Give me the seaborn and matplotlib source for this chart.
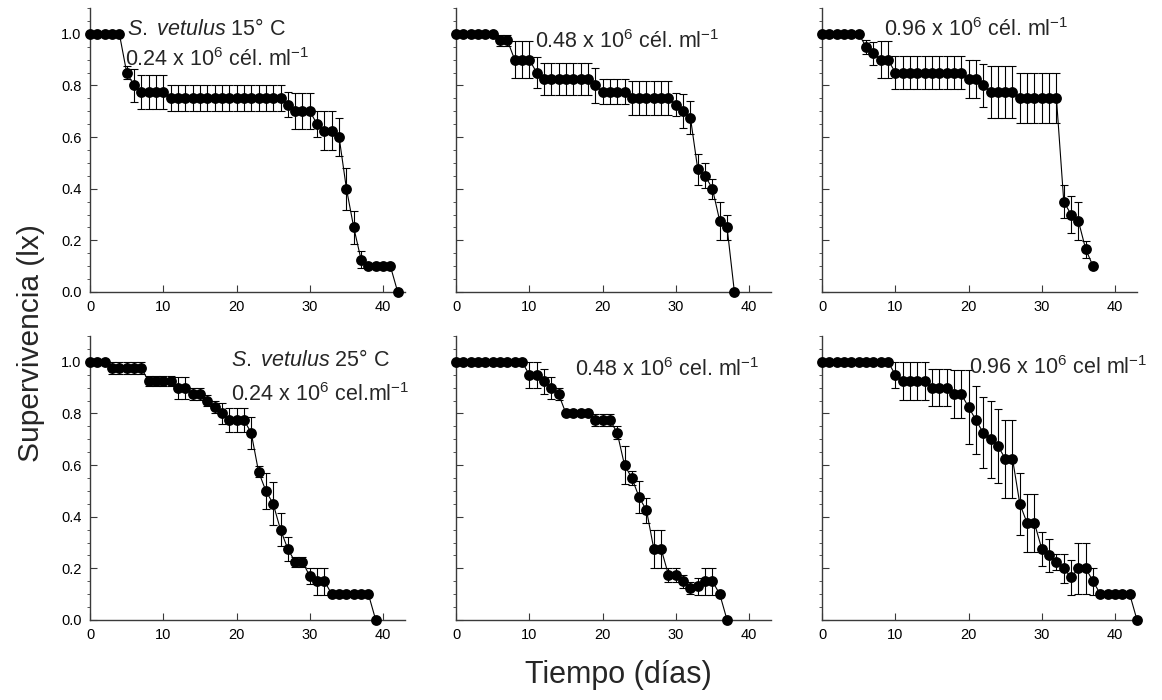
import matplotlib
matplotlib.use("Agg")
import matplotlib.pyplot as plt
import seaborn as sns
import numpy as np
from matplotlib.ticker import MultipleLocator

# --- data (dias, supervivencia lx, error) ---
# S. vetulus 15 C
d_15_024 = list(range(0, 43))
lx_15_024 = [1.0]*5 + [0.85, 0.80] + [0.775]*4 + [0.75]*16 + [0.725] + [0.70]*3 + \
    [0.65, 0.625, 0.625, 0.60, 0.40, 0.25, 0.125] + [0.10]*4 + [0.0]
se_15_024 = [0]*5 + [0.025, 0.065] + [0.065]*4 + [0.05]*16 + [0.048] + [0.07]*3 + \
    [0.05, 0.075, 0.075, 0.072, 0.082, 0.065, 0.032] + [0]*4 + [0]

d_15_048 = list(range(0, 39))
lx_15_048 = [1.0]*6 + [0.975]*2 + [0.90]*3 + [0.85] + [0.825]*7 + [0.80] + [0.775]*4 + \
    [0.75]*6 + [0.725, 0.70, 0.675, 0.475, 0.45, 0.40, 0.275, 0.25, 0.0]
se_15_048 = [0]*6 + [0.022]*2 + [0.072]*3 + [0.061] + [0.063]*7 + [0.069] + [0.048]*4 + \
    [0.066]*6 + [0.045, 0.066, 0.063, 0.061, 0.049, 0.039, 0.074, 0.048, 0]

d_15_096 = list(range(0, 38))
lx_15_096 = [1.0]*6 + [0.95, 0.925] + [0.90]*2 + [0.85]*10 + [0.825]*2 + [0.80] + \
    [0.775]*4 + [0.75]*6 + [0.35, 0.30, 0.275, 0.165, 0.10]
se_15_096 = [0]*6 + [0.027, 0.045] + [0.071]*2 + [0.065]*10 + [0.074]*2 + [0.084] + \
    [0.10]*4 + [0.097]*6 + [0.064, 0.07, 0.074, 0.032, 0]

# S. vetulus 25 C
d_25_024 = list(range(0, 40))
lx_25_024 = [1.0]*3 + [0.975]*5 + [0.925]*4 + [0.90]*2 + [0.875]*2 + [0.85, 0.825, 0.80] + \
    [0.775]*3 + [0.725, 0.575, 0.50, 0.45, 0.35, 0.275, 0.225, 0.225, 0.17, 0.15, 0.15] + \
    [0.10]*6 + [0.0]
se_25_024 = [0]*3 + [0.023]*5 + [0.02]*4 + [0.043]*2 + [0.022]*2 + [0.022, 0.024, 0.042] + \
    [0.047]*3 + [0.063, 0.02, 0.07, 0.084, 0.065, 0.047, 0.018, 0.018, 0.03, 0.052, 0.052] + \
    [0]*6 + [0]

d_25_048 = list(range(0, 38))
lx_25_048 = [1.0]*10 + [0.95]*2 + [0.925, 0.90, 0.875] + [0.80]*4 + [0.775]*3 + \
    [0.725, 0.60, 0.55, 0.475, 0.425, 0.275, 0.275, 0.175, 0.175, 0.15, 0.125, 0.13,
     0.15, 0.15, 0.10, 0.0]
se_25_048 = [0]*10 + [0.05]*2 + [0.048, 0.043, 0.024] + [0]*4 + [0.024]*3 + \
    [0.025, 0.072, 0.028, 0.062, 0.049, 0.073, 0.073, 0.026, 0.026, 0.026, 0.024, 0.034,
     0.052, 0.052, 0, 0]

d_25_096 = list(range(0, 44))
lx_25_096 = [1.0]*10 + [0.95] + [0.925]*4 + [0.90]*3 + [0.875]*2 + \
    [0.825, 0.775, 0.725, 0.70, 0.675, 0.625, 0.625, 0.45, 0.375, 0.375, 0.275, 0.25,
     0.225, 0.20, 0.165, 0.20, 0.20, 0.15] + [0.10]*5 + [0.0]
se_25_096 = [0]*10 + [0.05] + [0.074]*4 + [0.071]*3 + [0.094]*2 + \
    [0.145, 0.133, 0.138, 0.149, 0.144, 0.151, 0.151, 0.119, 0.112, 0.112, 0.064, 0.064,
     0.032, 0.055, 0.068, 0.10, 0.10, 0.052] + [0]*5 + [0]

panels = [
    (d_15_024, lx_15_024, se_15_024),
    (d_15_048, lx_15_048, se_15_048),
    (d_15_096, lx_15_096, se_15_096),
    (d_25_024, lx_25_024, se_25_024),
    (d_25_048, lx_25_048, se_25_048),
    (d_25_096, lx_25_096, se_25_096),
]

# (text, x, y) in data coords
labels = [
    [(r"$\it{S.}$ $\it{vetulus}$ 15° C", 5.1, 0.995), (r"0.24 x 10$^6$ cél. ml$^{-1}$", 4.8, 0.875)],
    [(r"0.48 x 10$^6$ cél. ml$^{-1}$", 10.8, 0.945)],
    [(r"0.96 x 10$^6$ cél. ml$^{-1}$", 8.5, 0.99)],
    [(r"$\it{S.}$ $\it{vetulus}$ 25° C", 19.3, 0.985), (r"0.24 x 10$^6$ cel.ml$^{-1}$", 19.2, 0.85)],
    [(r"0.48 x 10$^6$ cel. ml$^{-1}$", 16.2, 0.946)],
    [(r"0.96 x 10$^6$ cel ml$^{-1}$", 20.1, 0.953)],
]

sns.set_theme(style="ticks")
plt.rcParams["font.family"] = ["Liberation Sans", "DejaVu Sans"]
plt.rcParams["mathtext.fontset"] = "custom"
plt.rcParams["mathtext.rm"] = "Liberation Sans"
plt.rcParams["mathtext.it"] = "Liberation Sans:italic"
plt.rcParams["mathtext.default"] = "regular"

fig, axes = plt.subplots(2, 3, figsize=(11.62, 7.0), dpi=100)
fig.subplots_adjust(left=0.0775, right=0.9785, bottom=0.1143, top=0.9886,
                    wspace=0.162, hspace=0.155)

spine_c = "#3a3a3a"
for i, ax in enumerate(axes.flat):
    d, lx, se = panels[i]
    ax.errorbar(d, lx, yerr=se, fmt="none", ecolor="black", elinewidth=0.8,
                capsize=3.2, capthick=0.8, zorder=1, clip_on=False)
    sns.lineplot(x=d, y=lx, ax=ax, color="black", linewidth=0.8, marker="o",
                 markersize=7.8, markeredgewidth=0, zorder=3, clip_on=False)
    for txt, tx, ty in labels[i]:
        ax.text(tx, ty, txt, fontsize=15.5, va="baseline", ha="left", zorder=5)

    ax.set_xlim(0, 43)
    ax.set_ylim(0, 1.1)
    ax.xaxis.set_major_locator(MultipleLocator(10))
    ax.yaxis.set_major_locator(MultipleLocator(0.2))
    ax.yaxis.set_minor_locator(MultipleLocator(0.05))
    ax.yaxis.set_major_formatter(matplotlib.ticker.FormatStrFormatter("%.1f"))
    sns.despine(ax=ax)
    for s in ("left", "bottom"):
        ax.spines[s].set_color(spine_c)
        ax.spines[s].set_linewidth(1.0)
    ax.tick_params(axis="both", which="major", direction="in", length=5, width=0.8,
                   color=spine_c, labelsize=10.5, labelcolor="black", pad=6)
    ax.tick_params(axis="y", which="minor", direction="out", length=2.5, width=0.6,
                   color=spine_c)
    if i % 3 != 0:
        ax.tick_params(axis="y", labelleft=False)

fig.text(0.027, 0.51, "Supervivencia (lx)", rotation=90, fontsize=21.5,
         ha="center", va="center")
fig.text(0.532, 0.024, "Tiempo (días)", fontsize=22, ha="center", va="baseline")

fig.savefig("out.png", dpi=100)
